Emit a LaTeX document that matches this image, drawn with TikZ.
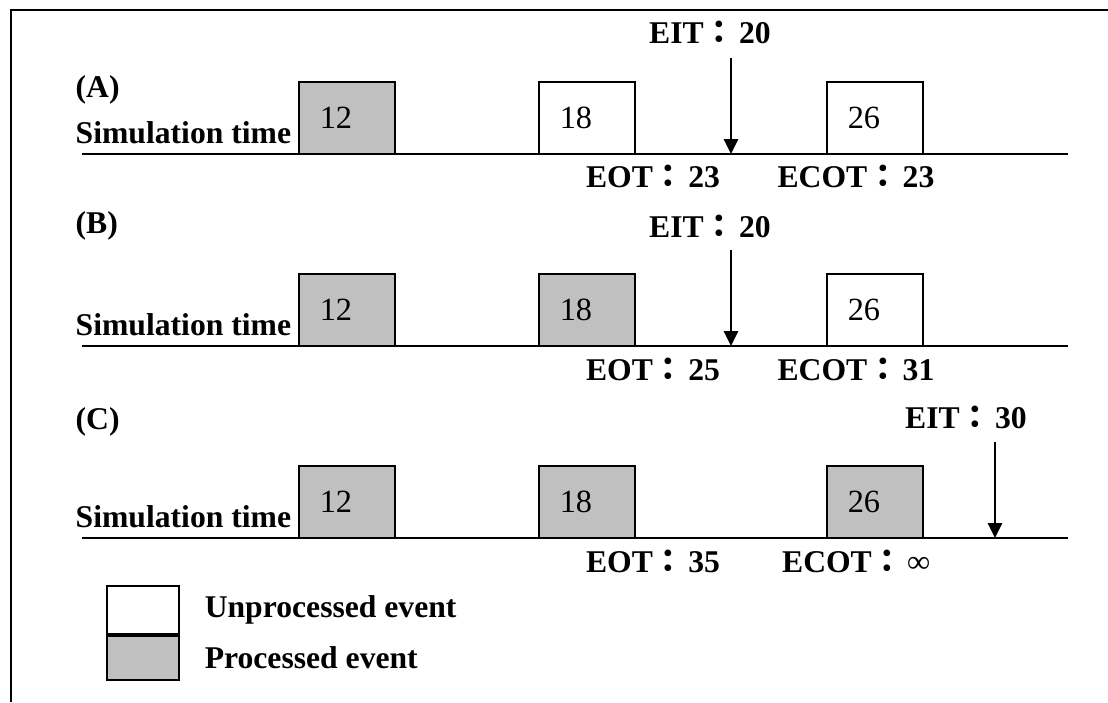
\documentclass[tikz,border=0pt]{standalone}
\usepackage{fontspec}
\setmainfont{Liberation Serif}
\newfontfamily\cjk{Noto Sans CJK TC}
\usepackage{tikz}
\usetikzlibrary{arrows.meta, positioning}
\definecolor{eventgray}{RGB}{192,192,192}
\newcommand{\fwcolon}{{\cjk\bfseries ：}\kern0.12em}

\begin{document}
\begin{tikzpicture}[
    x=0.01cm, y=-0.01cm,
    event/.style={draw, line width=0.6pt, minimum width=0.96cm, minimum height=0.72cm, inner sep=0pt},
    unprocessed/.style={event, fill=white},
    processed/.style={event, fill=eventgray},
    num/.style={font=\fontsize{9.2}{11}\selectfont, xshift=-0.11cm},
    tag/.style={font=\fontsize{9}{11}\selectfont\bfseries, inner sep=0pt},
    axis/.style={line width=0.6pt},
    marker/.style={-{Triangle[width=4pt,length=4.2pt]}, line width=0.6pt}
]
    \useasboundingbox (0,0) rectangle (1108,702);
    \draw[line width=0.6pt] (11,702) -- (11,10) -- (1108,10);

    % (A)
    \node[tag, anchor=west] (headA) at (75,90) {(A)};
    \node[tag, anchor=base west] (simA) at (75,143) {Simulation time};
    \coordinate (axisA-start) at (82,154);
    \coordinate (axisA-end) at (1068,154);
    \draw[axis] (axisA-start) -- (axisA-end);
    \node[processed, label={[num]center:12}] (a12) at (347,118) {};
    \node[unprocessed, label={[num]center:18}] (a18) at (587,118) {};
    \node[unprocessed, label={[num]center:26}] (a26) at (875,118) {};
    \node[tag, anchor=base] (eitA) at (710,43) {EIT\fwcolon 20};
    \coordinate (eitA-top) at (731,58);
    \draw[marker] (eitA-top) -- (eitA-top |- axisA-end);
    \node[tag, anchor=base] (eotA) at (653,187) {EOT\fwcolon 23};
    \node[tag, anchor=base] (ecotA) at (856,187) {ECOT\fwcolon 23};

    % (B)
    \node[tag, anchor=west] (headB) at (75,226) {(B)};
    \node[tag, anchor=base west] (simB) at (75,335) {Simulation time};
    \coordinate (axisB-start) at (82,346);
    \coordinate (axisB-end) at (1068,346);
    \draw[axis] (axisB-start) -- (axisB-end);
    \node[processed, label={[num]center:12}] (b12) at (347,310) {};
    \node[processed, label={[num]center:18}] (b18) at (587,310) {};
    \node[unprocessed, label={[num]center:26}] (b26) at (875,310) {};
    \node[tag, anchor=base] (eitB) at (710,237) {EIT\fwcolon 20};
    \coordinate (eitB-top) at (731,250);
    \draw[marker] (eitB-top) -- (eitB-top |- axisB-end);
    \node[tag, anchor=base] (eotB) at (653,380) {EOT\fwcolon 25};
    \node[tag, anchor=base] (ecotB) at (856,380) {ECOT\fwcolon 31};

    % (C)
    \node[tag, anchor=west] (headC) at (75,422) {(C)};
    \node[tag, anchor=base west] (simC) at (75,527) {Simulation time};
    \coordinate (axisC-start) at (82,538);
    \coordinate (axisC-end) at (1068,538);
    \draw[axis] (axisC-start) -- (axisC-end);
    \node[processed, label={[num]center:12}] (c12) at (347,502) {};
    \node[processed, label={[num]center:18}] (c18) at (587,502) {};
    \node[processed, label={[num]center:26}] (c26) at (875,502) {};
    \node[tag, anchor=base] (eitC) at (966,428) {EIT\fwcolon 30};
    \coordinate (eitC-top) at (995,442);
    \draw[marker] (eitC-top) -- (eitC-top |- axisC-end);
    \node[tag, anchor=base] (eotC) at (653,572) {EOT\fwcolon 35};
    \node[tag, anchor=base] (ecotC) at (856,572) {ECOT\fwcolon ∞};

    % legend
    \node[unprocessed, minimum width=0.72cm, minimum height=0.48cm] (keyU) at (143,610) {};
    \node[processed, minimum width=0.72cm, minimum height=0.44cm, below=0pt of keyU] (keyP) {};
    \node[tag, right=0.24cm of keyU] (keyU-text) {Unprocessed event};
    \node[tag, right=0.24cm of keyP] (keyP-text) {Processed event};
\end{tikzpicture}
\end{document}
